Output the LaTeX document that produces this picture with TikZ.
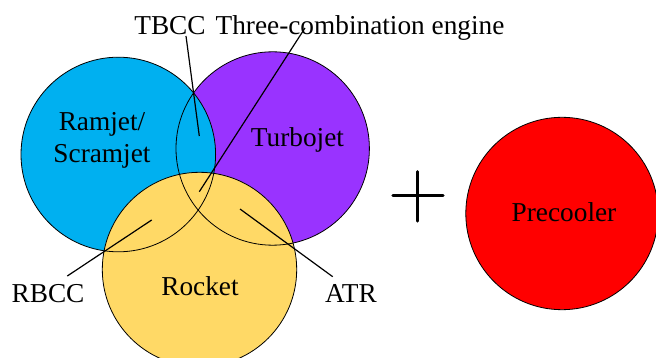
\documentclass[tikz,border=0pt]{standalone}
\usepackage{fontspec}
\setmainfont{Liberation Serif}
\definecolor{cblue}{HTML}{00B0F0}
\definecolor{cpurple}{HTML}{9933FF}
\definecolor{cyellow}{HTML}{FFD966}
\definecolor{cred}{HTML}{FF0000}
\begin{document}
\begin{tikzpicture}[x=1pt,y=-1pt,
  lbl/.style={font=\fontsize{27.3}{32}\selectfont, inner sep=0pt, text=black},
  ring/.style={draw=black, line width=0.8pt},
  leader/.style={draw=black, line width=1.2pt}]
\useasboundingbox (0,0) rectangle (656,358);
% fills
\fill[cpurple] (272.7,148.5) circle (96.7);
\fill[cblue] (118.3,154.5) circle (97.3);
\fill[cyellow] (199.5,269.5) circle (97.2);
\fill[cred] (562,213.5) circle (96.2);
% outlines
\draw[ring] (272.7,148.5) circle (96.7);
\draw[ring] (118.3,154.5) circle (97.3);
\draw[ring] (199.5,269.5) circle (97.2);
\draw[ring] (562,213.5) circle (96.2);
% labels
\node[lbl, anchor=base] (tbcc) at (170,35) {TBCC};
\node[lbl, anchor=base] (three) at (360,35) {Three-combination engine};
\node[lbl, align=center] (ram) at (102,140) {Ramjet/\\Scramjet};
\node[lbl, anchor=base] (turbo) at (297.5,147) {Turbojet};
\node[lbl, anchor=base] (rocket) at (200,295) {Rocket};
\node[lbl, anchor=base] (rbcc) at (48,302) {RBCC};
\node[lbl, anchor=base] (atr) at (351,302) {ATR};
\node[lbl, anchor=base] (pre) at (564,222) {Precooler};
% leader line ends
\coordinate (tbccA) at (186,36);
\coordinate (tbccB) at (199.3,136);
\coordinate (threeA) at (305,28);
\coordinate (threeB) at (199.3,191.7);
\coordinate (rbccA) at (67.3,276);
\coordinate (rbccB) at (151.7,220);
\coordinate (atrA) at (332.7,276.7);
\coordinate (atrB) at (240,209);
\draw[leader] (tbccA) -- (tbccB);
\draw[leader] (threeA) -- (threeB);
\draw[leader] (rbccA) -- (rbccB);
\draw[leader] (atrA) -- (atrB);
% plus sign
\coordinate (plusL) at (393,195.7);
\coordinate (plusR) at (443,195.7);
\coordinate (plusT) at (417.7,171.7);
\coordinate (plusB) at (417.7,221);
\draw[line width=3.3pt, line cap=round] (plusL) -- (plusR);
\draw[line width=3.3pt, line cap=round] (plusT) -- (plusB);
\end{tikzpicture}
\end{document}
